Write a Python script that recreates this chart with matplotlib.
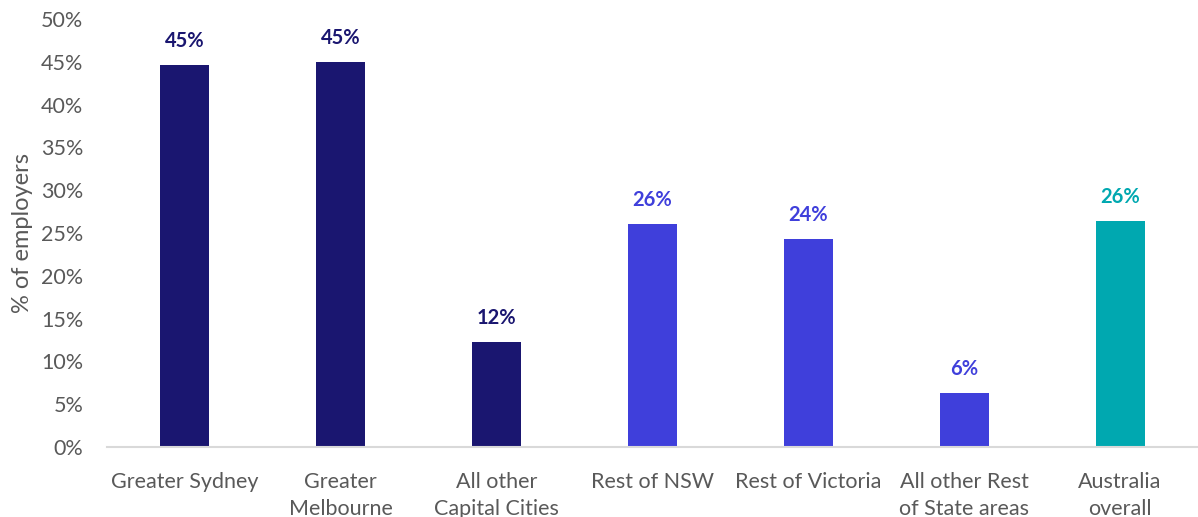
import matplotlib
matplotlib.use("Agg")
import matplotlib.pyplot as plt
from matplotlib.ticker import FuncFormatter

categories = ["Greater Sydney", "Greater\nMelbourne", "All other\nCapital Cities",
              "Rest of NSW", "Rest of Victoria", "All other Rest\nof State areas",
              "Australia\noverall"]
values = [44.6, 45.0, 12.3, 26.1, 24.3, 6.3, 26.4]
labels = ["45%", "45%", "12%", "26%", "24%", "6%", "26%"]
colors = ["#1A1670", "#1A1670", "#1A1670", "#3F3FDB", "#3F3FDB", "#3F3FDB", "#00A8B0"]

plt.rcParams['font.family'] = ['Lato', 'DejaVu Sans']

fig = plt.figure(figsize=(11.98, 5.17), dpi=100)
ax = fig.add_axes([107/1198, 70/517, 1 - 107/1198, (447-19)/517])

x = list(range(len(categories)))
bars = ax.bar(x, values, width=0.315, color=colors)
for xi, v, lab, c in zip(x, values, labels, colors):
    ax.annotate(lab, (xi, v), xytext=(0, 10), textcoords="offset points",
                ha="center", va="bottom", fontsize=14.5, fontweight="bold", color=c)

ax.set_xlim(-0.5, len(categories) - 0.5)
ax.set_ylim(0, 50)
ax.set_yticks(range(0, 51, 5))
ax.yaxis.set_major_formatter(FuncFormatter(lambda v, p: f"{int(v)}%"))
ax.set_xticks(x)
ax.set_xticklabels(categories, linespacing=1.45)
ax.tick_params(axis="both", length=0, labelsize=15.5, colors="#595959")
ax.tick_params(axis="y", pad=17)
ax.tick_params(axis="x", pad=18)
for s in ["top", "right", "left"]:
    ax.spines[s].set_visible(False)
ax.spines["bottom"].set_color("#D9D9D9")
ax.spines["bottom"].set_linewidth(1.5)
ax.set_ylabel("% of employers", fontsize=17, color="#595959", labelpad=6)

fig.savefig("out.png", dpi=100)
